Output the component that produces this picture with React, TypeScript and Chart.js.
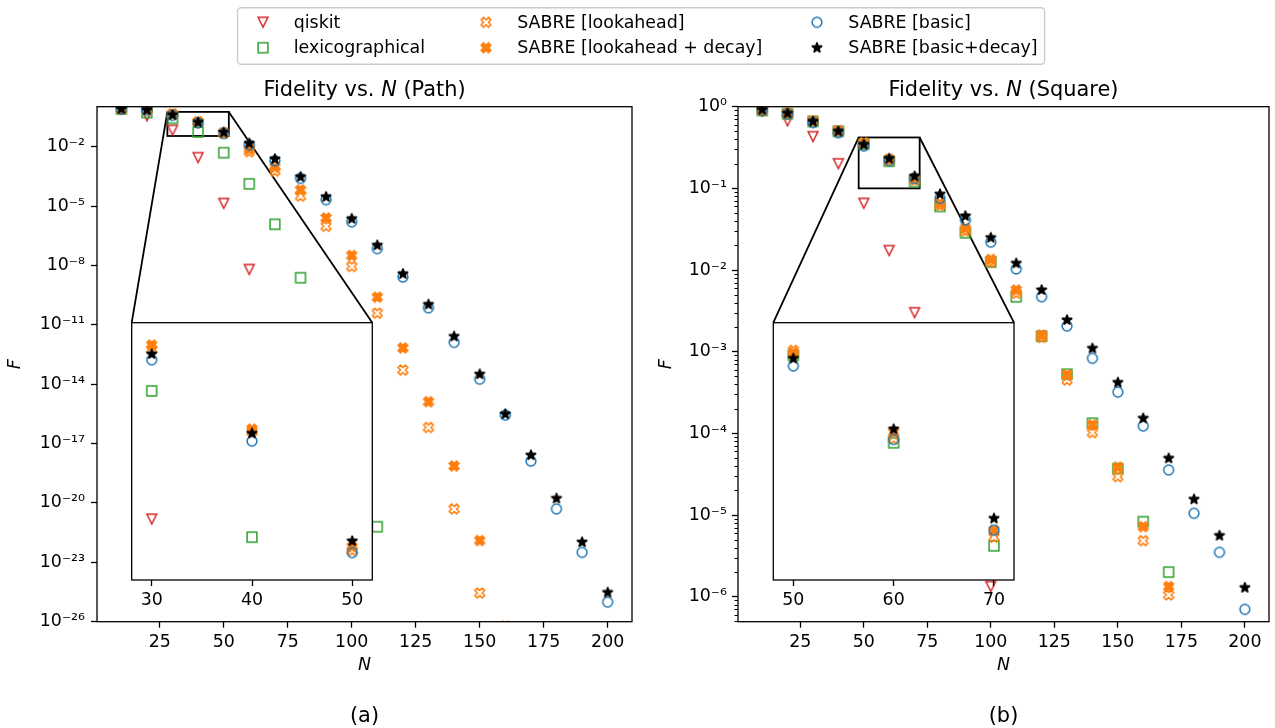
import React, { useEffect, useRef } from 'react';
import { Chart, registerables } from 'chart.js';

Chart.register(...registerables);

// ---------------- data ----------------
const N_VALUES = [10, 20, 30, 40, 50, 60, 70, 80, 90, 100, 110, 120, 130, 140, 150, 160, 170, 180, 190, 200];
const X_TICKS = [25, 50, 75, 100, 125, 150, 175, 200];
const X_LIMITS = [0.5, 209.5];

const SERIES_NAMES = ['qiskit', 'lexicographical', 'SABRE [lookahead]', 'SABRE [lookahead + decay]', 'SABRE [basic]', 'SABRE [basic+decay]'];

// (a) Path
const PATH_QISKIT = [0.8, 0.36, 0.0675, 2.8e-3, 1.35e-5, 6.2e-9, null, null, null, null, null, null, null, null, null, null, null, null, null, null];
const PATH_LEXICOGRAPHICAL = [0.8, 0.53, 0.273, 0.0555, 5.0e-3, 1.33e-4, 1.2e-6, 2.4e-9, null, null, 6.3e-22, null, null, null, null, null, null, null, null, null];
const PATH_LOOKAHEAD = [0.8, 0.72, 0.43, 0.175, 0.048, 5.6e-3, 5.9e-4, 3.2e-5, 9.5e-7, 8.9e-9, 3.9e-11, 5.2e-14, 6.5e-17, 5.0e-21, 2.8e-25, null, null, null, null, null];
const PATH_LOOKAHEAD_DECAY = [0.8, 0.72, 0.45, 0.18, 0.05, 7.4e-3, 9.1e-4, 6.5e-5, 2.5e-6, 3.2e-8, 2.5e-10, 6.8e-13, 1.3e-15, 7.4e-19, 1.26e-22, 6e-27, null, null, null, null];
const PATH_BASIC = [0.8, 0.7, 0.383, 0.158, 0.0469, 0.0123, 1.95e-3, 2.5e-4, 2.1e-5, 1.6e-6, 7.1e-8, 2.6e-9, 7.2e-11, 1.3e-12, 1.8e-14, 2.75e-16, 1.3e-18, 5e-21, 3.2e-23, 9.8e-26];
const PATH_BASIC_DECAY = [0.82, 0.72, 0.408, 0.172, 0.0532, 0.0148, 2.4e-3, 3.0e-4, 2.95e-5, 2.3e-6, 1.05e-7, 3.8e-9, 1.07e-10, 2.6e-12, 3.2e-14, 3.1e-16, 2.6e-18, 1.7e-20, 1.05e-22, 3.0e-25];

// (b) Square
const SQUARE_QISKIT = [0.88, 0.67, 0.43, 0.2, 0.0656, 0.0173, 0.003, null, null, 1.33e-6, null, null, null, null, null, null, null, null, null, null];
const SQUARE_LEXICOGRAPHICAL = [0.9, 0.82, 0.66, 0.5, 0.35, 0.215, 0.121, 0.06, 0.0286, 0.0125, 0.0047, 0.00155, 5.3e-4, 1.33e-4, 3.7e-5, 8.3e-6, 2.0e-6, null, null, null];
const SQUARE_LOOKAHEAD = [0.9, 0.82, 0.66, 0.5, 0.36, 0.22, 0.127, 0.062, 0.03, 0.0125, 0.0052, 0.0015, 4.5e-4, 1.02e-4, 2.95e-5, 4.85e-6, 1.05e-6, null, null, null];
const SQUARE_LOOKAHEAD_DECAY = [0.9, 0.83, 0.67, 0.51, 0.355, 0.228, 0.132, 0.0656, 0.0324, 0.0135, 0.0057, 0.0016, 5.2e-4, 1.27e-4, 3.85e-5, 7.2e-6, 1.33e-6, null, null, null];
const SQUARE_BASIC = [0.9, 0.81, 0.64, 0.48, 0.33, 0.219, 0.132, 0.0755, 0.041, 0.022, 0.0103, 0.0047, 0.00206, 8.3e-4, 3.2e-4, 1.23e-4, 3.56e-5, 1.05e-5, 3.5e-6, 7.0e-7];
const SQUARE_BASIC_DECAY = [0.92, 0.83, 0.66, 0.5, 0.344, 0.232, 0.141, 0.085, 0.0459, 0.0249, 0.0121, 0.0057, 0.00244, 0.0011, 4.2e-4, 1.53e-4, 4.95e-5, 1.56e-5, 5.6e-6, 1.29e-6];

const PATH_Y_LIMITS = [1e-26, 1.05];
const PATH_Y_TICK_EXPONENTS = [-26, -23, -20, -17, -14, -11, -8, -5, -2];
const SQUARE_Y_LIMITS = [4.94e-7, 1];
const SQUARE_Y_TICK_EXPONENTS = [-6, -5, -4, -3, -2, -1, 0];

const PATH_INSET_X_LIMITS = [28, 52];
const PATH_INSET_Y_LIMITS = [0.0348, 0.574];
const PATH_INSET_X_TICKS = [30, 40, 50];
const SQUARE_INSET_X_LIMITS = [48, 72];
const SQUARE_INSET_Y_LIMITS = [0.1, 0.42];
const SQUARE_INSET_X_TICKS = [50, 60, 70];

const PATH_TITLE = [{ text: 'Fidelity vs. ', italic: false }, { text: 'N', italic: true }, { text: ' (Path)', italic: false }];
const SQUARE_TITLE = [{ text: 'Fidelity vs. ', italic: false }, { text: 'N', italic: true }, { text: ' (Square)', italic: false }];
const X_LABEL = 'N';
const Y_LABEL = 'F';
const CAPTIONS = ['(a)', '(b)'];

// ---------------- styles / layout ----------------
const FONT = '"DejaVu Sans", sans-serif';
const FS = 17.4;
const TITLE_FS = 20.9;
const CAPTION_FS = 20.9;
const MS = 9.8;
const MLW = 1.5;
const SPINE_W = 1.3;

const SERIES_MARKERS = [
  { kind: 'triDown', color: '#d62728', filled: false },
  { kind: 'square', color: '#2ca02c', filled: false },
  { kind: 'x', color: '#ff7f0e', filled: false },
  { kind: 'x', color: '#ff7f0e', filled: true },
  { kind: 'circle', color: '#1f77b4', filled: false },
  { kind: 'star', color: '#000000', filled: true },
];

const LEFT_AREA = { left: 97, top: 106.7, right: 632, bottom: 621.7 };
const RIGHT_AREA = { left: 738, top: 106.7, right: 1273, bottom: 621.7 };
const LEFT_INSET_AREA = { left: 131.7, top: 322.7, right: 372.3, bottom: 580 };
const RIGHT_INSET_AREA = { left: 773.3, top: 322.7, right: 1014, bottom: 580 };

const LEFT_CANVAS = { x: 0, y: 0, w: 1275, h: 728 };
const RIGHT_CANVAS = { x: 640, y: 0, w: 635, h: 728 };
const LEFT_INSET_CANVAS = { x: 118, y: 310, w: 268, h: 312 };
const RIGHT_INSET_CANVAS = { x: 760, y: 310, w: 268, h: 312 };

const LEGEND_BOX = { x: 237.6, y: 7.7, w: 807, h: 56.6 };
const LEGEND_MARKER_X = [263, 486, 817];
const LEGEND_TEXT_X = [293.7, 517.2, 848.3];
const LEGEND_ROW_Y = [22.3, 47.7];

const SUP: Record<string, string> = { '-': '\u207B', '0': '\u2070', '1': '\u00B9', '2': '\u00B2', '3': '\u00B3', '4': '\u2074', '5': '\u2075', '6': '\u2076', '7': '\u2077', '8': '\u2078', '9': '\u2079' };
const pow10Label = (v: number) => '10' + String(Math.round(Math.log10(v))).split('').map((c) => SUP[c] || c).join('');

function makeMarker(kind: string, color: string, filled: boolean) {
  const size = 18;
  const c = document.createElement('canvas');
  c.width = size;
  c.height = size;
  const g = c.getContext('2d') as CanvasRenderingContext2D;
  g.translate(size / 2, size / 2);
  g.lineWidth = MLW;
  g.strokeStyle = color;
  g.fillStyle = color;
  g.lineJoin = 'miter';
  const h = MS / 2;
  g.beginPath();
  if (kind === 'circle') {
    g.arc(0, 0, h, 0, Math.PI * 2);
  } else if (kind === 'square') {
    g.rect(-h, -h, 2 * h, 2 * h);
  } else if (kind === 'triDown') {
    g.moveTo(-h, -h);
    g.lineTo(h, -h);
    g.lineTo(0, h);
    g.closePath();
  } else if (kind === 'x') {
    const pts = [[-1, -2], [0, -1], [1, -2], [2, -1], [1, 0], [2, 1], [1, 2], [0, 1], [-1, 2], [-2, 1], [-1, 0], [-2, -1]];
    pts.forEach(([px, py], i) => (i ? g.lineTo((px * MS) / 4, (py * MS) / 4) : g.moveTo((px * MS) / 4, (py * MS) / 4)));
    g.closePath();
  } else if (kind === 'star') {
    g.lineJoin = 'bevel';
    const R = h * 1.1;
    for (let i = 0; i < 10; i++) {
      const r = i % 2 === 0 ? R : R * 0.381966;
      const a = -Math.PI / 2 + (i * Math.PI) / 5;
      const px = r * Math.cos(a);
      const py = r * Math.sin(a);
      if (i === 0) g.moveTo(px, py);
      else g.lineTo(px, py);
    }
    g.closePath();
  }
  if (filled) g.fill();
  g.stroke();
  return c;
}

function toPoints(values: (number | null)[]) {
  return N_VALUES.map((n, i) => ({ x: n, y: values[i] })).filter((p) => p.y !== null && p.y !== undefined);
}

function makeDatasets(series: (number | null)[][], markers: HTMLCanvasElement[]) {
  return series.map((vals, i) => ({
    label: SERIES_NAMES[i],
    data: toPoints(vals),
    pointStyle: markers[i],
    pointRadius: 5,
    clip: 0,
    order: series.length - i,
  }));
}

function framePlugin(fillWhite: boolean) {
  return {
    id: 'frame',
    beforeDraw(chart: any) {
      if (!fillWhite) return;
      const { ctx, chartArea: a } = chart;
      ctx.save();
      ctx.fillStyle = '#ffffff';
      ctx.fillRect(a.left, a.top, a.right - a.left, a.bottom - a.top);
      ctx.restore();
    },
    afterDraw(chart: any) {
      const { ctx, chartArea: a } = chart;
      ctx.save();
      ctx.strokeStyle = '#000';
      ctx.lineWidth = SPINE_W;
      ctx.strokeRect(a.left, a.top, a.right - a.left, a.bottom - a.top);
      ctx.restore();
    },
  };
}

function insetMarkPlugin(xLim: number[], yLim: number[], insetArea: any, canvas: any) {
  return {
    id: 'insetMark',
    beforeDatasetsDraw(chart: any) {
      const { ctx } = chart;
      const xs = chart.scales.x;
      const ys = chart.scales.y;
      const x0 = xs.getPixelForValue(xLim[0]);
      const x1 = xs.getPixelForValue(xLim[1]);
      const yT = ys.getPixelForValue(yLim[1]);
      const yB = ys.getPixelForValue(yLim[0]);
      ctx.save();
      ctx.strokeStyle = '#000';
      ctx.lineWidth = 1.8;
      ctx.strokeRect(x0, yT, x1 - x0, yB - yT);
      ctx.beginPath();
      ctx.moveTo(x0, yT);
      ctx.lineTo(insetArea.left - canvas.x, insetArea.top - canvas.y);
      ctx.moveTo(x1, yT);
      ctx.lineTo(insetArea.right - canvas.x, insetArea.top - canvas.y);
      ctx.stroke();
      ctx.restore();
    },
  };
}

function textPlugin(titleParts: any[], caption: string, canvas: any) {
  return {
    id: 'figText',
    afterDraw(chart: any) {
      const { ctx, chartArea: a } = chart;
      const cx = (a.left + a.right) / 2;
      ctx.save();
      ctx.fillStyle = '#000';
      ctx.textBaseline = 'alphabetic';
      ctx.textAlign = 'left';
      const fonts = titleParts.map((p) => `${p.italic ? 'italic ' : ''}${TITLE_FS}px ${FONT}`);
      const widths = titleParts.map((p, i) => {
        ctx.font = fonts[i];
        return ctx.measureText(p.text).width;
      });
      let x = cx - widths.reduce((s, w) => s + w, 0) / 2;
      titleParts.forEach((p, i) => {
        ctx.font = fonts[i];
        ctx.fillText(p.text, x, a.top - 11);
        x += widths[i];
      });
      ctx.font = `${CAPTION_FS}px ${FONT}`;
      ctx.textAlign = 'center';
      ctx.textBaseline = 'middle';
      ctx.fillText(caption, cx, 717 - canvas.y);
      ctx.restore();
    },
  };
}

function minorTickPlugin() {
  return {
    id: 'minorTicks',
    afterDraw(chart: any) {
      const { ctx, chartArea: a } = chart;
      const ys = chart.scales.y;
      ctx.save();
      ctx.strokeStyle = '#000';
      ctx.lineWidth = 1;
      ctx.beginPath();
      for (let e = -8; e <= 1; e++) {
        for (let k = 2; k <= 9; k++) {
          const v = k * Math.pow(10, e);
          if (v < ys.min || v > ys.max) continue;
          const py = Math.round(ys.getPixelForValue(v)) + 0.5;
          ctx.moveTo(a.left - 3.5, py);
          ctx.lineTo(a.left, py);
        }
      }
      ctx.stroke();
      ctx.restore();
    },
  };
}

function legendPlugin(markers: HTMLCanvasElement[]) {
  return {
    id: 'figLegend',
    afterDraw(chart: any) {
      const { ctx } = chart;
      ctx.save();
      ctx.beginPath();
      if (ctx.roundRect) ctx.roundRect(LEGEND_BOX.x, LEGEND_BOX.y, LEGEND_BOX.w, LEGEND_BOX.h, 3.5);
      else ctx.rect(LEGEND_BOX.x, LEGEND_BOX.y, LEGEND_BOX.w, LEGEND_BOX.h);
      ctx.fillStyle = 'rgba(255,255,255,0.8)';
      ctx.fill();
      ctx.strokeStyle = '#cccccc';
      ctx.lineWidth = 1.4;
      ctx.stroke();
      ctx.font = `${FS}px ${FONT}`;
      ctx.fillStyle = '#000';
      ctx.textAlign = 'left';
      ctx.textBaseline = 'middle';
      SERIES_NAMES.forEach((name, i) => {
        const col = Math.floor(i / 2);
        const row = i % 2;
        const m = markers[i];
        ctx.drawImage(m, LEGEND_MARKER_X[col] - m.width / 2, LEGEND_ROW_Y[row] - m.height / 2);
        ctx.fillText(name, LEGEND_TEXT_X[col], LEGEND_ROW_Y[row] + 1);
      });
      ctx.restore();
    },
  };
}

function buildConfig(o: any) {
  const { canvas, area, xLimits, xTicks, yLimits, yTickExps, showY, datasets, plugins, yTitlePad, yLabelPad } = o;
  const yW = area.left - canvas.x;
  const xH = canvas.y + canvas.h - area.bottom;
  const tickFont = { size: FS, family: FONT };
  const grid = { display: true, drawOnChartArea: false, drawTicks: true, tickLength: 6, tickWidth: SPINE_W, tickColor: '#000' };
  const xAxis: any = {
    type: 'linear',
    bounds: 'data',
    min: xLimits[0],
    max: xLimits[1],
    afterBuildTicks: (s: any) => {
      s.ticks = xTicks.map((v: number) => ({ value: v }));
    },
    afterFit: (s: any) => {
      s.height = xH;
    },
    grid,
    border: { display: false },
    ticks: { color: '#000', font: tickFont, padding: 4, maxRotation: 0, autoSkip: false, callback: (v: number) => String(v) },
  };
  if (showY) {
    xAxis.title = { display: true, text: X_LABEL, color: '#000', font: { size: FS, family: FONT, style: 'italic' }, padding: { top: 0, bottom: 728 - 665 - (FS * 1.2) / 2 - (728 - canvas.y - canvas.h) } };
  }
  const yAxis: any = {
    type: 'logarithmic',
    bounds: 'data',
    min: yLimits[0],
    max: yLimits[1],
    display: showY,
  };
  if (showY) {
    Object.assign(yAxis, {
      afterBuildTicks: (s: any) => {
        s.ticks = yTickExps.map((e: number) => ({ value: Math.pow(10, e) }));
      },
      afterFit: (s: any) => {
        s.width = yW;
      },
      grid,
      border: { display: false },
      ticks: { color: '#000', font: tickFont, padding: yLabelPad, autoSkip: false, callback: (v: number) => pow10Label(v) },
      title: { display: true, text: Y_LABEL, color: '#000', font: { size: FS, family: FONT, style: 'italic' }, padding: { top: yTitlePad, bottom: 0 } },
    });
  }
  return {
    type: 'scatter',
    data: { datasets },
    options: {
      animation: false,
      responsive: false,
      devicePixelRatio: 1,
      events: [],
      layout: {
        padding: {
          left: showY ? 0 : yW,
          top: area.top - canvas.y,
          right: canvas.x + canvas.w - area.right,
          bottom: 0,
        },
      },
      plugins: { legend: { display: false }, title: { display: false }, tooltip: { enabled: false } },
      scales: { x: xAxis, y: yAxis },
    },
    plugins,
  };
}

const canvasStyle = (c: any) => ({ position: 'absolute' as const, left: c.x, top: c.y, width: c.w, height: c.h });

export default function App() {
  const leftRef = useRef<HTMLCanvasElement>(null);
  const rightRef = useRef<HTMLCanvasElement>(null);
  const leftInsetRef = useRef<HTMLCanvasElement>(null);
  const rightInsetRef = useRef<HTMLCanvasElement>(null);

  useEffect(() => {
    Chart.defaults.font.family = FONT;
    Chart.defaults.font.size = FS;
    Chart.defaults.color = '#000';
    const markers = SERIES_MARKERS.map((m) => makeMarker(m.kind, m.color, m.filled));
    const pathSeries = [PATH_QISKIT, PATH_LEXICOGRAPHICAL, PATH_LOOKAHEAD, PATH_LOOKAHEAD_DECAY, PATH_BASIC, PATH_BASIC_DECAY];
    const squareSeries = [SQUARE_QISKIT, SQUARE_LEXICOGRAPHICAL, SQUARE_LOOKAHEAD, SQUARE_LOOKAHEAD_DECAY, SQUARE_BASIC, SQUARE_BASIC_DECAY];

    const charts: Chart[] = [];
    charts.push(
      new Chart(leftRef.current as HTMLCanvasElement, buildConfig({
        canvas: LEFT_CANVAS, area: LEFT_AREA, xLimits: X_LIMITS, xTicks: X_TICKS, yLimits: PATH_Y_LIMITS, yTickExps: PATH_Y_TICK_EXPONENTS,
        showY: true, yTitlePad: 5.5, yLabelPad: 6,
        datasets: makeDatasets(pathSeries, markers),
        plugins: [insetMarkPlugin(PATH_INSET_X_LIMITS, PATH_INSET_Y_LIMITS, LEFT_INSET_AREA, LEFT_CANVAS), framePlugin(false), textPlugin(PATH_TITLE, CAPTIONS[0], LEFT_CANVAS), legendPlugin(markers)],
      }) as any)
    );
    charts.push(
      new Chart(rightRef.current as HTMLCanvasElement, buildConfig({
        canvas: RIGHT_CANVAS, area: RIGHT_AREA, xLimits: X_LIMITS, xTicks: X_TICKS, yLimits: SQUARE_Y_LIMITS, yTickExps: SQUARE_Y_TICK_EXPONENTS,
        showY: true, yTitlePad: 16.3, yLabelPad: 5,
        datasets: makeDatasets(squareSeries, markers),
        plugins: [insetMarkPlugin(SQUARE_INSET_X_LIMITS, SQUARE_INSET_Y_LIMITS, RIGHT_INSET_AREA, RIGHT_CANVAS), framePlugin(false), minorTickPlugin(), textPlugin(SQUARE_TITLE, CAPTIONS[1], RIGHT_CANVAS)],
      }) as any)
    );
    charts.push(
      new Chart(leftInsetRef.current as HTMLCanvasElement, buildConfig({
        canvas: LEFT_INSET_CANVAS, area: LEFT_INSET_AREA, xLimits: PATH_INSET_X_LIMITS, xTicks: PATH_INSET_X_TICKS, yLimits: PATH_INSET_Y_LIMITS,
        showY: false, datasets: makeDatasets(pathSeries, markers), plugins: [framePlugin(true)],
      }) as any)
    );
    charts.push(
      new Chart(rightInsetRef.current as HTMLCanvasElement, buildConfig({
        canvas: RIGHT_INSET_CANVAS, area: RIGHT_INSET_AREA, xLimits: SQUARE_INSET_X_LIMITS, xTicks: SQUARE_INSET_X_TICKS, yLimits: SQUARE_INSET_Y_LIMITS,
        showY: false, datasets: makeDatasets(squareSeries, markers), plugins: [framePlugin(true)],
      }) as any)
    );
    return () => charts.forEach((c) => c.destroy());
  }, []);

  return (
    <div style={{ position: 'absolute', left: 0, top: 0, width: 1275, height: 728, background: '#fff', overflow: 'hidden' }}>
      <canvas ref={leftRef} width={LEFT_CANVAS.w} height={LEFT_CANVAS.h} style={canvasStyle(LEFT_CANVAS)} />
      <canvas ref={rightRef} width={RIGHT_CANVAS.w} height={RIGHT_CANVAS.h} style={canvasStyle(RIGHT_CANVAS)} />
      <canvas ref={leftInsetRef} width={LEFT_INSET_CANVAS.w} height={LEFT_INSET_CANVAS.h} style={canvasStyle(LEFT_INSET_CANVAS)} />
      <canvas ref={rightInsetRef} width={RIGHT_INSET_CANVAS.w} height={RIGHT_INSET_CANVAS.h} style={canvasStyle(RIGHT_INSET_CANVAS)} />
    </div>
  );
}
